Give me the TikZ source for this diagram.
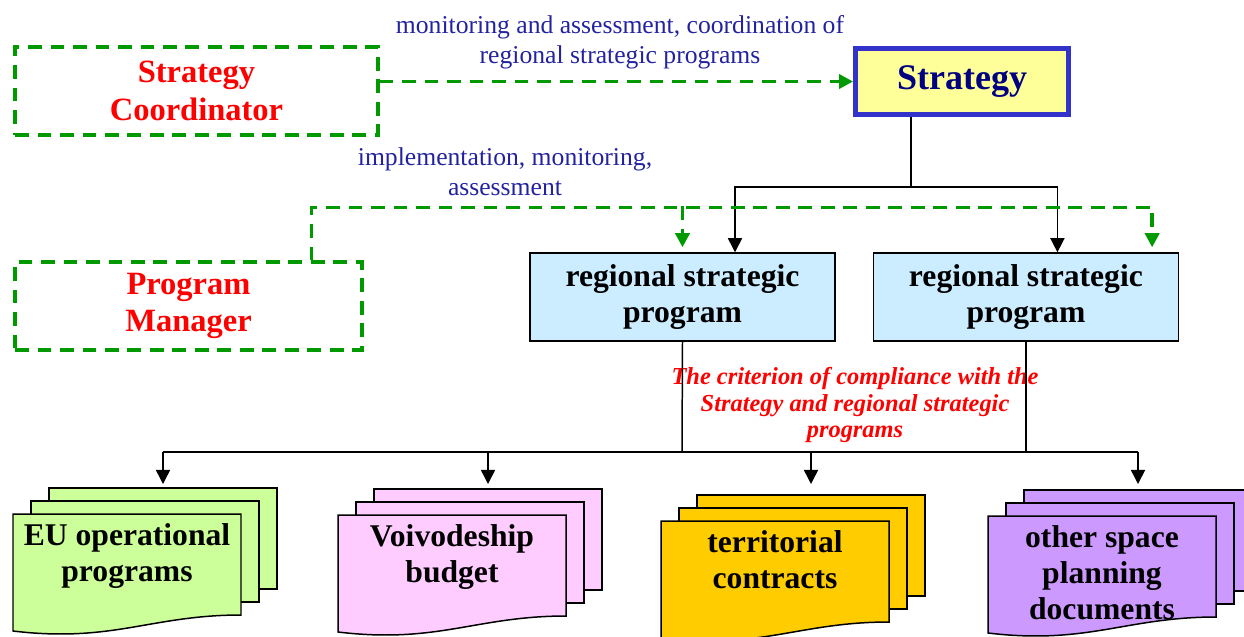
\documentclass[tikz,border=0pt]{standalone}
\usepackage{fontspec}
\setmainfont{Liberation Serif}
\usetikzlibrary{positioning,calc,arrows.meta}

\definecolor{rolegreen}{RGB}{0,153,0}
\definecolor{noteblue}{RGB}{35,35,160}
\definecolor{stratblue}{RGB}{51,51,204}
\definecolor{stratnavy}{RGB}{0,0,128}
\definecolor{stratfill}{RGB}{255,255,153}
\definecolor{rspfill}{RGB}{204,236,255}
\definecolor{eufill}{RGB}{204,255,153}
\definecolor{budgetfill}{RGB}{255,204,255}
\definecolor{contractfill}{RGB}{255,204,0}
\definecolor{otherfill}{RGB}{204,153,255}

\tikzset{
  role/.style = {draw=rolegreen, line width=2pt, dash pattern=on 7.8pt off 5pt, align=center,
    text=red, font=\fontsize{18.5}{21.5}\selectfont\bfseries, minimum height=1.76cm},
  rsp/.style = {draw, line width=0.85pt, fill=rspfill, align=center,
    font=\fontsize{18}{20.5}\selectfont\bfseries, minimum width=6.1cm, minimum height=1.76cm},
  sheet/.style = {draw, line width=0.85pt, minimum width=4.56cm, minimum height=2.02cm},
  doctext/.style = {align=center, anchor=north, inner sep=0pt, font=\fontsize{18}{20.5}\selectfont\bfseries},
  link/.style = {line width=0.85pt, -{Triangle[width=8pt,length=8pt]}},
  rolelink/.style = {draw=rolegreen, line width=2pt, dash pattern=on 7.8pt off 5pt,
    -{Triangle[width=8pt,length=8pt]}},
  note/.style = {text=noteblue, align=center, font=\fontsize{14.6}{17}\selectfont}
}

% stack of three documents: name, x, y (front sheet top left), fill, text
\newcommand{\docstack}[5]{%
  \node[sheet, fill=#4] (#1-back) at ({#2+150},{#3+24.5}) {};
  \node[sheet, fill=#4] (#1-mid) at ({#2+132},{#3+37.5}) {};
  \draw[line width=0.85pt, fill=#4] (#2,#3) -- ++(228,0) -- ++(0,101)
    .. controls +(-90,0) and +(100,12) .. ({#2},{#3+117}) -- cycle;
  \node[doctext] (#1) at ({#2+114},{#3+9}) {#5};
}

\begin{document}
\begin{tikzpicture}[x=0.02cm, y=-0.02cm]
	\useasboundingbox (0,0) rectangle (1244,636);

	%% Nodes
	\node[role, minimum width=7.26cm] (sc) at (196.5,91) {Strategy\\Coordinator};
	\node[role, minimum width=6.94cm] (pm) at (188.5,306) {Program\\Manager};

	\node[draw=stratblue, line width=2.8pt, fill=stratfill, minimum width=4.26cm, minimum height=1.32cm,
	  text=stratnavy, font=\fontsize{20.5}{24}\selectfont\bfseries] (strat) at (962,81.5) {Strategy};

	\node[rsp] (rsp1) at (682.5,297) {regional strategic\\program};
	\node[rsp][right=0.74cm of rsp1] (rsp2) {regional strategic\\program};

	\node[note] (scnote) at (620,42) {monitoring and assessment, coordination of\\regional strategic programs};
	\node[note] (pmnote) at (505,172) {implementation, monitoring,\\assessment};
	\node[align=center, text=red, font=\fontsize{13.9}{15.3}\selectfont\bfseries\itshape] (crit) at (855,405)
	  {The criterion of compliance with the\\Strategy and regional strategic\\programs};

	\docstack{eu}{13}{514}{eufill}{EU operational\\programs}
	\docstack{budget}{338}{515}{budgetfill}{Voivodeship\\budget}
	\docstack{contracts}{661}{521}{contractfill}{territorial\\contracts}
	\docstack{other}{988}{516}{otherfill}{other space\\planning\\documents}

	%% Edges
	\coordinate (stratbus) at (911,187);
	\draw[line width=0.85pt] (strat.south -| stratbus) -- (stratbus);
	\draw[link] (stratbus) -| ($(rsp1.north)+(52.5,0)$);
	\draw[link] (stratbus) -| ($(rsp2.north)+(31.5,0)$);

	\draw[rolelink] (sc.east |- strat.west) -- (strat.west);

	\coordinate (pmbus) at ($(pm.north east)+(-52,-54)$);
	\draw[rolelink] ($(pm.north east)+(-52,0)$) |- ($(rsp2.north east)+(-27,-45)$) -- ($(rsp2.north east)+(-27,-5)$);
	\draw[rolelink] (rsp1.north |- pmbus) -- ($(rsp1.north)+(0,-5)$);

	\coordinate (docbus) at (682,452);
	\coordinate (doctips) at (0,484);
	\draw[line width=0.85pt] (rsp1.south) -- (docbus);
	\draw[line width=0.85pt] (rsp2.south) -- (rsp2.south |- docbus);
	\draw[line width=0.85pt] (eu-back.north |- docbus) -- (other-back.north |- docbus);
	\foreach \d in {eu,budget,contracts,other}
	  \draw[link] (\d-back.north |- docbus) -- (\d-back.north |- doctips);
\end{tikzpicture}
\end{document}
